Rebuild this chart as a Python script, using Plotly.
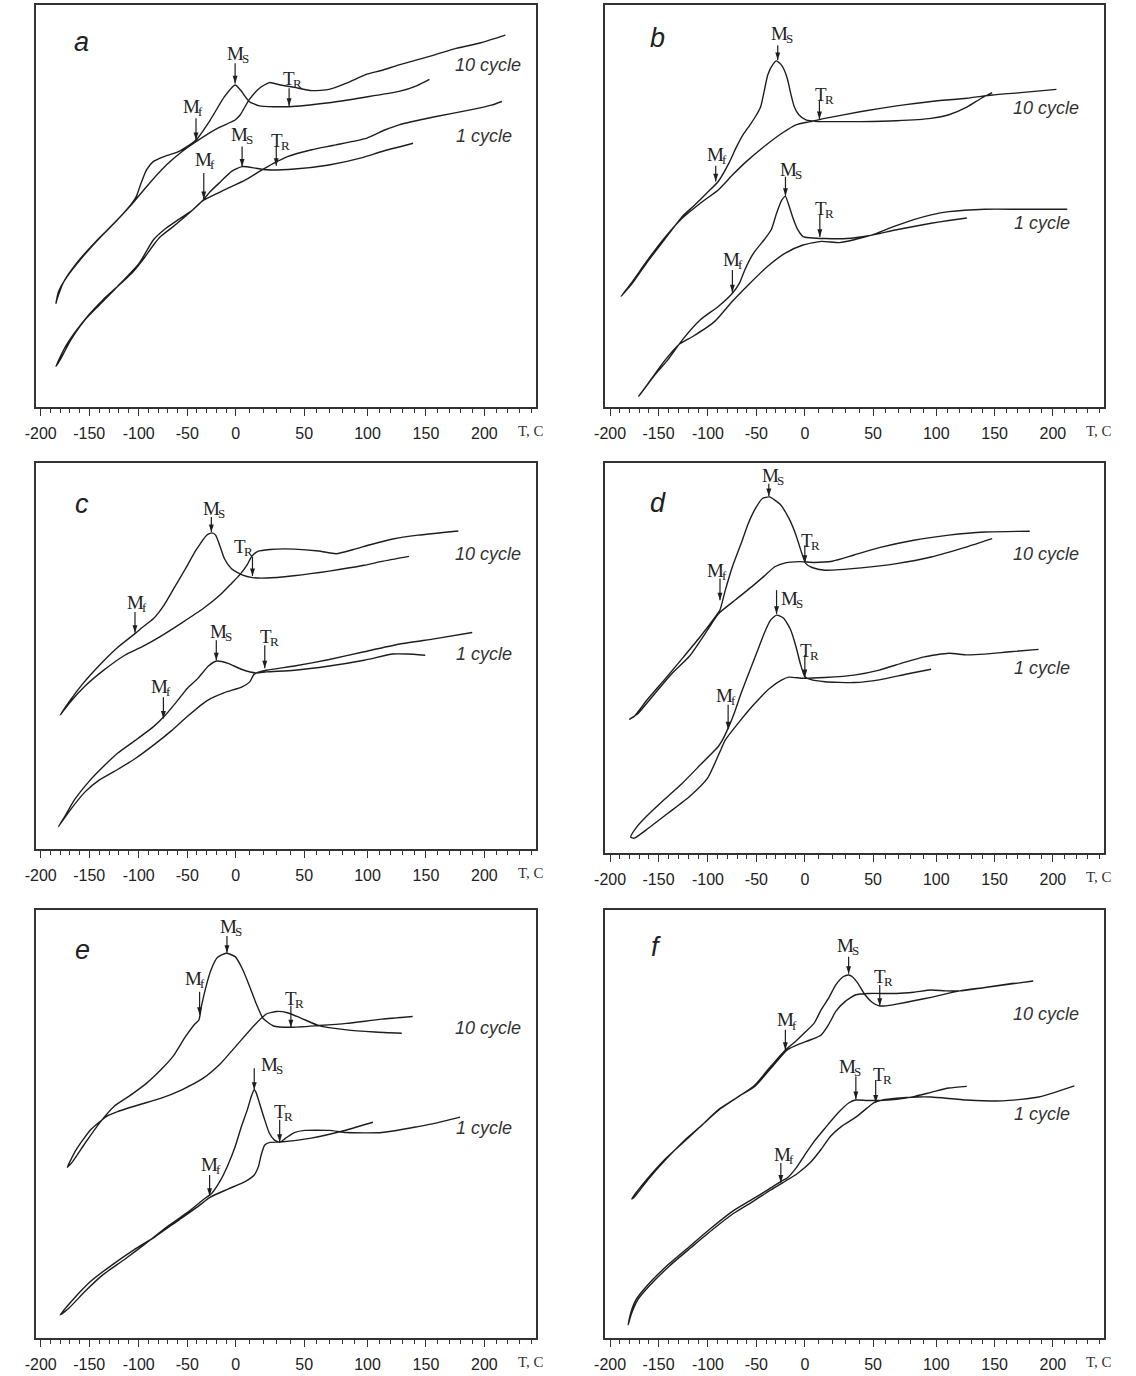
import numpy as np
import plotly.graph_objects as go

# ---------------- DATA (temperature T in deg C, signal in arbitrary units 0..100) ----------------
TICK_T = [-200, -150, -100, -50, 0, 50, 100, 150, 200]
TICK_LABELS = ["-200", "-150", "-100", "-50", "0", "50", "100", "150", "200"]
MINOR_T = [t for t in range(-200, 241, 10) if t % 50 != 0]

# panel a
A10_COOL_T = [153, 142, 127, 96.7, 69.6, 39, 17.3, 9.7, 3.3, -0.7, -11.7, -26.3, -41, -59, -73.9, -84.8, -92, -97.6, -102.4, -106.8, -121.4, -139.7, -158, -172.6, -181.7, -184.3]
A10_COOL_Y = [81.5, 79.9, 78.5, 77.0, 75.7, 74.7, 74.9, 76.0, 78.9, 80.1, 77.2, 71.4, 66.4, 63.5, 62.3, 61.1, 59.0, 55.7, 52.4, 50.7, 46.6, 42.0, 37.0, 32.5, 28.7, 25.8]
A10_HEAT_T = [-184.3, -182.8, -176.2, -161.6, -143.3, -125, -106.8, -88.5, -70.2, -55.6, -41, -19, -0.7, 3.3, 9.7, 17.3, 24.5, 32.7, 42.9, 56, 69.6, 85.9, 99.5, 111.7, 127, 157.6, 175.8, 197, 218]
A10_HEAT_Y = [25.8, 27.1, 31.2, 36.2, 41.2, 45.7, 50.5, 55.8, 60.5, 63.5, 66.0, 69.3, 71.4, 72.7, 76.4, 79.3, 80.7, 80.1, 79.5, 78.7, 79.0, 80.9, 82.8, 83.7, 85.1, 87.6, 89.2, 90.6, 92.5]
A1_COOL_T = [139, 111.7, 96.7, 69.6, 42.9, 22.4, 14.8, 4.6, -4.4, -15.4, -26.3, -33.6, -48.3, -66.5, -77.5, -84.8, -95.8, -106.8, -117.7, -136, -150.6, -165.2, -176.2, -184.3]
A1_COOL_Y = [65.6, 63.5, 62.1, 60.2, 59.2, 59.0, 59.4, 59.8, 58.6, 56.1, 53.6, 51.5, 48.2, 44.5, 42.4, 40.3, 36.6, 33.3, 30.8, 26.7, 22.9, 18.4, 14.3, 10.1]
A1_HEAT_T = [-184.3, -179.9, -168.9, -154.3, -139.7, -121.4, -99.5, -84.8, -73.9, -59.2, -44.6, -33.6, -11.7, 7.1, 17.3, 27.6, 37.8, 56, 75, 99.5, 114.7, 127, 157.6, 188, 206, 215]
A1_HEAT_Y = [10.1, 11.8, 16.7, 21.7, 25.4, 30.0, 35.8, 41.6, 44.1, 46.6, 49.0, 51.4, 54.0, 56.5, 58.6, 60.6, 62.3, 64.0, 65.2, 66.9, 68.9, 70.2, 72.2, 73.9, 75.1, 76.0]
A_ARROWS = [(-0.7, 85.5, 80.5), (39, 79.3, 74.9), (-41, 71.8, 66.4), (4.6, 64.8, 59.8), (29.6, 64.8, 60.0), (-33, 58.2, 51.7)]
A_LABELS = [("M", "S", 2, 88.0), ("T", "R", 41.6, 81.8), ("M", "f", -44.6, 74.7),
            ("M", "S", 4.6, 67.7), ("T", "R", 32.7, 66.4), ("M", "f", -31.8, 61.5)]
A_TEXTS = [("10 cycle", 203, 85.1), ("1 cycle", 200, 67.3)]
A_LETTER = ("a", -158, 90.9)

# panel b
B10_COOL_T = [147.9, 138.6, 126.2, 110.8, 95.9, 68.6, 41.4, 14.7, 9.4, 0.8, -6.2, -10.9, -14.6, -18.2, -23.7, -29.2, -32.8, -38.3, -42, -45.6, -51.1, -56.6, -63.9, -71.2, -78.5, -89.4, -100.4, -115, -125.9, -144.2, -162.4, -177, -188.7]
B10_COOL_Y = [78.2, 76.8, 74.6, 72.7, 71.8, 71.2, 71.0, 71.0, 71.0, 71.4, 72.7, 74.7, 78.0, 81.8, 84.9, 86.1, 85.3, 82.6, 78.5, 74.7, 72.2, 70.2, 67.7, 64.4, 60.6, 56.1, 53.4, 49.9, 47.4, 41.6, 35.8, 30.8, 27.5]
B10_HEAT_T = [-188.7, -177, -162.4, -144.2, -125.9, -107.7, -89.4, -74.8, -60.2, -42, -23.7, -9.1, 4, 14.7, 41.4, 68.6, 95.9, 126.2, 147.9, 172.4, 203]
B10_HEAT_Y = [27.5, 31.2, 36.2, 42.0, 47.0, 50.7, 54.0, 57.7, 61.1, 64.8, 68.1, 70.2, 71.0, 71.8, 73.5, 74.9, 76.0, 76.8, 77.6, 78.2, 79.0]
B1_COOL_T = [126.2, 110.8, 95.9, 68.6, 46.8, 30.7, 14.7, 4, -1.8, -7.3, -12.8, -17.2, -20.1, -23.7, -29.2, -34.7, -42, -52.9, -62, -67.5, -74.8, -89.4, -107.7, -125.9, -140.5, -155.1, -170.4]
B1_COOL_Y = [47.0, 46.4, 45.7, 44.1, 42.6, 41.9, 41.9, 42.1, 42.4, 44.1, 47.4, 50.7, 52.4, 51.5, 48.2, 44.1, 41.6, 38.3, 34.1, 30.8, 28.3, 25.0, 21.7, 16.7, 11.8, 7.6, 2.7]
B1_HEAT_T = [-170.4, -158, -144.2, -129.6, -115, -93, -74.8, -56.6, -38.3, -20.1, -1.8, 12, 25.4, 36.1, 49.5, 63.1, 82.2, 95.9, 110.8, 141.7, 172.4, 212.3]
B1_HEAT_Y = [2.7, 6.8, 11.4, 15.5, 17.6, 21.3, 26.3, 30.8, 35.0, 38.3, 40.3, 41.2, 40.9, 41.6, 42.8, 44.5, 46.6, 47.8, 48.6, 49.2, 49.2, 49.2]
B_ARROWS = [(-28, 90, 86.3), (10.7, 76.4, 71.6), (-92, 60, 56.1), (-20, 57.3, 52.5), (11, 47.8, 42.3), (-74.8, 34.1, 28.5)]
B_LABELS = [("M", "S", -23.7, 93), ("T", "R", 14.7, 77.8), ("M", "f", -91.2, 62.7),
            ("M", "S", -14.6, 59), ("T", "R", 14.7, 49.5), ("M", "f", -74.8, 36.8)]
B_TEXTS = [("10 cycle", 193.9, 74.3), ("1 cycle", 190.8, 45.7)]
B_LETTER = ("b", -151, 91.7)

# panel c
C10_COOL_T = [135.5, 112.3, 97.3, 69.8, 42.3, 22.4, 12.2, 4.6, -4.4, -11.7, -16.1, -20.8, -24.5, -30, -41, -51.9, -62.9, -73.9, -84.8, -95.8, -103.8, -121.4, -139.7, -158, -170.8, -179.9]
C10_COOL_Y = [75.8, 74.5, 73.5, 72.0, 70.8, 70.2, 70.3, 71.0, 72.6, 75.2, 78.3, 81.3, 81.9, 81.3, 77.4, 72.6, 67.9, 63.2, 59.7, 57.5, 55.8, 52.2, 47.6, 42.4, 38.1, 34.7]
C10_HEAT_T = [-179.9, -170.8, -154.3, -136, -114.1, -95.8, -77.5, -55.6, -33.6, -15.4, -4.4, 3.3, 8.4, 11.7, 16.1, 25, 42.9, 61.5, 75.3, 89, 103.1, 121.6, 143.2, 177.7]
C10_HEAT_Y = [34.7, 37.7, 42.2, 46.2, 50.2, 52.5, 55.1, 58.6, 62.3, 66.0, 68.8, 71.2, 73.7, 75.8, 77.1, 77.6, 77.7, 77.2, 76.5, 77.6, 78.9, 80.3, 81.3, 82.4]
C1_COOL_T = [149.4, 133.9, 121.6, 97.3, 69.8, 42.9, 22.4, 14.8, 4.6, -8, -19.7, -28.2, -39.1, -50.1, -61.1, -73.9, -84.8, -103.1, -121.4, -136, -150.6, -165.3, -174.4, -181.7]
C1_COOL_Y = [50.2, 50.5, 50.5, 48.9, 47.4, 46.3, 45.9, 45.6, 46.5, 48.1, 48.7, 47.4, 44.2, 41.6, 38.1, 34.3, 31.7, 28.2, 24.8, 21.3, 17.4, 12.7, 8.8, 5.8]
C1_HEAT_T = [-181.7, -170.8, -154.3, -139.7, -121.4, -103.1, -84.8, -66.5, -48.3, -30, -11.7, 4.6, 10.2, 13.5, 22.4, 42.9, 69.8, 97.3, 127.8, 158.3, 189.6]
C1_HEAT_Y = [5.8, 9.7, 14.8, 17.9, 20.6, 23.5, 26.9, 30.6, 34.7, 38.4, 40.5, 42.0, 43.3, 45.3, 46.3, 47.4, 49.1, 51.1, 53.1, 54.5, 56.1]
C_ARROWS = [(-25.2, 86, 82.1), (12.2, 75.7, 70.7), (-103.8, 61.4, 56), (-20.1, 54.1, 48.9), (21.2, 52.8, 46.8), (-74.6, 39.3, 33.8)]
C_LABELS = [("M", "S", -22.7, 88.2), ("T", "R", 5.9, 78.3), ("M", "f", -102.4, 63.8),
            ("M", "S", -15.4, 56.3), ("T", "R", 24.5, 55.0), ("M", "f", -77.5, 42.2)]
C_TEXTS = [("10 cycle", 203, 76.4), ("1 cycle", 200, 50.5)]
C_LETTER = ("c", -157, 89.3)

# panel d
D10_COOL_T = [147.9, 126.2, 95.9, 68.6, 41.4, 14.7, 5.3, 0.8, -3.6, -9.1, -16.4, -25.5, -36.5, -43.8, -51.1, -58.4, -65.7, -74.8, -82.1, -87.6, -91.2, -107.7, -125.9, -144.2, -162.4, -175.2, -179.9]
D10_COOL_Y = [80.6, 78.5, 75.9, 74.2, 73.1, 72.5, 73.2, 74.2, 77.2, 81.5, 85.8, 89.4, 91.3, 90.9, 88.3, 84.5, 79.4, 73.4, 67.4, 62.3, 61.0, 55.5, 49.9, 44.4, 39.1, 35.0, 34.3]
D10_HEAT_T = [-179.9, -171.5, -155.1, -136.9, -118.6, -100.4, -89.4, -71.2, -54.7, -42, -31, -20.1, -5.5, 6.7, 20.1, 36.1, 54.9, 82.2, 110.8, 141.7, 180.1]
D10_HEAT_Y = [34.3, 35.7, 40.5, 45.9, 50.5, 57.2, 61.3, 65.0, 68.3, 71.0, 73.4, 74.4, 74.7, 74.5, 74.8, 76.4, 78.3, 80.2, 81.5, 82.3, 82.5]
D1_COOL_T = [95.9, 76.8, 54.9, 36.1, 14.7, 4, 0, -4.7, -9.1, -14.6, -21.9, -29.2, -35.4, -42, -49.3, -56.6, -65.7, -73, -78.5, -85, -89.4, -107.7, -125.9, -144.2, -162.4, -173.4, -178.8]
D1_COOL_Y = [47.1, 45.9, 44.4, 43.7, 43.9, 44.5, 45.2, 48.6, 52.9, 57.2, 60.2, 61.0, 59.7, 56.3, 51.6, 46.9, 41.0, 35.8, 32.4, 29.0, 27.3, 22.6, 17.9, 13.7, 9.4, 6.4, 4.1]
D1_HEAT_T = [-178.8, -175.2, -162.4, -140.5, -118.6, -100.4, -87.6, -82.1, -67.5, -52.9, -36.5, -23.7, -16.4, -1.8, 14.7, 36.1, 54.9, 74, 90.5, 110.8, 126.2, 141.7, 163.2, 187.7]
D1_HEAT_Y = [4.1, 3.8, 6.0, 10.2, 14.5, 19.2, 26.0, 29.0, 33.7, 38.0, 42.2, 44.4, 45.1, 44.8, 45.0, 45.6, 46.9, 48.8, 50.3, 51.2, 50.8, 51.0, 51.6, 52.2]
D_ARROWS = [(-37.2, 94.7, 91.5), (0, 78.9, 74.4), (-87.6, 70.4, 64.8), (-29.2, 67.4, 61.3), (0, 50.8, 45.1), (-79.2, 38, 31.7)]
D_LABELS = [("M", "S", -32.8, 96.8), ("T", "R", 4, 80.2), ("M", "f", -91.2, 72.5),
            ("M", "S", -13, 65.3), ("T", "R", 3.5, 52), ("M", "f", -82.1, 40.5)]
D_TEXTS = [("10 cycle", 193.9, 76.6), ("1 cycle", 190.8, 47.4)]
D_LETTER = ("d", -151, 89.8)

# panel e
E10_COOL_T = [138.6, 112.3, 83.5, 61.5, 40.3, 27.6, 19.9, 14.8, 9.7, 4.6, -0.7, -9.9, -19, -25.6, -30.7, -35.5, -38, -42.8, -51.9, -64.7, -77.5, -92.1, -110.4, -125, -139.7, -154.3, -167.1, -172.6]
E10_COOL_Y = [75.1, 74.5, 73.5, 73.0, 72.6, 72.9, 74.7, 78.2, 82.5, 86.4, 89.1, 89.9, 88.9, 86.0, 82.1, 77.4, 74.3, 73.2, 70.4, 65.8, 62.6, 59.5, 56.4, 54.1, 50.2, 45.5, 41.2, 39.9]
E10_HEAT_T = [-172.6, -163.4, -148.8, -132.4, -121.4, -99.5, -77.5, -55.6, -33.6, -15.4, 2, 14.8, 22.4, 30.1, 37.8, 48, 61.5, 83.5, 106.2, 129.3]
E10_HEAT_Y = [39.9, 44.0, 48.6, 51.8, 52.9, 54.5, 56.0, 58.0, 60.7, 64.2, 68.9, 73.5, 75.7, 76.3, 76.0, 74.7, 73.0, 72.0, 71.5, 71.2]
E1_COOL_T = [179.2, 158.3, 143.2, 112.3, 83.5, 69.8, 50.5, 42.9, 36.5, 32.1, 28.1, 24.5, 20.7, 17.3, 14.8, 13.5, 11.7, 8.4, 4.1, -0.7, -8, -15.4, -24.5, -33.6, -48.3, -70.2, -92.1, -114.1, -136, -154.3, -170.8, -179.9]
E1_COOL_Y = [51.6, 50.2, 49.4, 48.0, 48.0, 48.5, 48.5, 48.0, 46.7, 45.7, 46.3, 47.9, 51.4, 54.9, 57.4, 58.0, 56.8, 53.3, 49.4, 44.7, 40.5, 37.0, 33.9, 32.3, 29.6, 26.1, 22.2, 18.4, 14.8, 10.9, 7.0, 5.4]
E1_HEAT_T = [-179.9, -167.1, -148.8, -126.8, -104.9, -82.9, -61, -39.1, -26.3, -8, 7.1, 13.5, 16.6, 18.6, 21.2, 25, 32.7, 55.6, 83.5, 104.6]
E1_HEAT_Y = [5.4, 8.9, 13.2, 17.1, 20.6, 23.7, 27.2, 30.7, 32.9, 34.8, 36.6, 38.1, 40.1, 42.8, 45.1, 45.7, 45.8, 46.7, 48.6, 50.4]
E_ARROWS = [(-9.1, 93.9, 90.0), (40.3, 77.6, 72.6), (-37.3, 80.9, 75.5), (13.5, 63, 58), (32.1, 51, 45.8), (-27, 38.1, 33.2)]
E_LABELS = [("M", "S", -4.4, 96.1), ("T", "R", 42.9, 79.4), ("M", "f", -42.8, 84),
            ("M", "S", 26.3, 63.8), ("T", "R", 35.2, 52.9), ("M", "f", -26.3, 40.5)]
E_TEXTS = [("10 cycle", 203, 72.4), ("1 cycle", 200, 49.0)]
E_LETTER = ("e", -157, 90.7)

# panel f
F10_COOL_T = [166.3, 141.7, 120.1, 95.9, 82.2, 68.6, 60.1, 54.8, 49.5, 44.1, 38.8, 34.8, 32.1, 28.1, 22.7, 17.4, 12, 6.7, 0, -9.1, -20.1, -34.7, -52.9, -71.2, -89.4, -107.7, -125.9, -144.2, -162.4, -173.4, -177.7]
F10_COOL_Y = [82.9, 81.9, 81.1, 79.6, 78.8, 78.0, 77.6, 77.6, 78.4, 80.2, 82.9, 84.4, 84.8, 84.4, 82.5, 79.4, 76.7, 73.5, 71.4, 69.4, 67.3, 63.6, 58.8, 56.0, 53.3, 49.4, 45.5, 41.6, 37.0, 33.9, 32.5]
F10_HEAT_T = [-177.7, -175.2, -160.6, -142.3, -124.1, -105.8, -87.6, -69.3, -51.1, -32.8, -18.2, -5.5, 5.3, 12, 17.4, 22.7, 29.4, 37.4, 46.8, 68.6, 82.2, 95.9, 107.7, 120.1, 141.7, 183.1]
F10_HEAT_Y = [32.5, 32.9, 37.1, 41.8, 46.1, 49.8, 53.5, 56.3, 58.9, 63.6, 67.3, 68.7, 69.8, 70.8, 73.2, 76.3, 78.6, 80.2, 80.5, 80.5, 80.8, 81.3, 81.1, 81.1, 81.9, 83.4]
F1_COOL_T = [126.2, 110.8, 95.9, 82.2, 68.6, 54.9, 45.5, 37.4, 32.1, 24.1, 14.7, 6.7, 0, -9.1, -18.2, -24.5, -38.3, -56.6, -74.8, -96.7, -118.6, -140.5, -162.4, -173.4, -178.8, -181.4]
F1_COOL_Y = [58.8, 58.4, 57.4, 56.4, 55.8, 55.5, 55.5, 55.6, 54.9, 52.5, 49.0, 45.9, 42.8, 39.7, 37.4, 36.6, 34.6, 32.1, 29.6, 25.7, 21.4, 17.1, 12.1, 8.9, 5.8, 3.1]
F1_HEAT_T = [-181.4, -178.1, -171.5, -160.6, -138.7, -116.8, -94.9, -73, -52.9, -36.5, -22.6, -7.3, 4, 12, 18.7, 26.7, 37.4, 45.5, 50.8, 57.6, 68.6, 85, 95.9, 126.2, 157.1, 187.7, 218.4]
F1_HEAT_Y = [3.1, 5.6, 8.9, 11.9, 16.9, 21.2, 25.4, 29.2, 32.0, 34.4, 36.3, 38.5, 41.0, 44.1, 47.1, 49.4, 51.6, 53.7, 55.0, 55.6, 56.0, 56.3, 56.3, 55.6, 55.4, 56.3, 58.9]
F_ARROWS = [(32.1, 89.1, 85.1), (55.3, 82.5, 77.6), (-20.1, 72, 67.3), (37.4, 61.1, 55.8), (52.1, 60.3, 55.0), (-24.8, 40.9, 36.3)]
F_LABELS = [("M", "S", 32.1, 91.8), ("T", "R", 58, 84.4), ("M", "f", -18.2, 74.3),
            ("M", "S", 33.4, 63.4), ("T", "R", 57.6, 61.5), ("M", "f", -21.9, 42.8)]
F_TEXTS = [("10 cycle", 193.9, 75.7), ("1 cycle", 190.8, 52.4)]
F_LETTER = ("f", -153, 91.3)

# ---------------- LAYOUT / SCALE ----------------
W, H = 1136, 1376
# the reference's temperature axis is not uniform: pixel offset of each major tick inside the frame
AXIS_PX = [5, 54, 104, 153, 202, 271, 335, 394, 453]
FRAME_W = 505.0


def tscale(t):
    tt = [-260.0] + TICK_T + [260.0]
    uu = [AXIS_PX[0] - 60 * 0.986] + AXIS_PX + [AXIS_PX[-1] + 60 * 1.18]
    return np.interp(np.asarray(t, dtype=float), tt, uu)


# frame boxes in pixels: (left, top, right, bottom)
BOXES = [(25, 5, 530, 407), (600, 5, 1104, 407),
         (25, 463, 530, 849), (600, 463, 1104, 853),
         (25, 910, 530, 1338), (600, 910, 1104, 1338)]

PANELS = [
    ([(A10_COOL_T, A10_COOL_Y, A10_HEAT_T, A10_HEAT_Y), (A1_COOL_T, A1_COOL_Y, A1_HEAT_T, A1_HEAT_Y)], A_ARROWS, A_LABELS, A_TEXTS, A_LETTER),
    ([(B10_COOL_T, B10_COOL_Y, B10_HEAT_T, B10_HEAT_Y), (B1_COOL_T, B1_COOL_Y, B1_HEAT_T, B1_HEAT_Y)], B_ARROWS, B_LABELS, B_TEXTS, B_LETTER),
    ([(C10_COOL_T, C10_COOL_Y, C10_HEAT_T, C10_HEAT_Y), (C1_COOL_T, C1_COOL_Y, C1_HEAT_T, C1_HEAT_Y)], C_ARROWS, C_LABELS, C_TEXTS, C_LETTER),
    ([(D10_COOL_T, D10_COOL_Y, D10_HEAT_T, D10_HEAT_Y), (D1_COOL_T, D1_COOL_Y, D1_HEAT_T, D1_HEAT_Y)], D_ARROWS, D_LABELS, D_TEXTS, D_LETTER),
    ([(E10_COOL_T, E10_COOL_Y, E10_HEAT_T, E10_HEAT_Y), (E1_COOL_T, E1_COOL_Y, E1_HEAT_T, E1_HEAT_Y)], E_ARROWS, E_LABELS, E_TEXTS, E_LETTER),
    ([(F10_COOL_T, F10_COOL_Y, F10_HEAT_T, F10_HEAT_Y), (F1_COOL_T, F1_COOL_Y, F1_HEAT_T, F1_HEAT_Y)], F_ARROWS, F_LABELS, F_TEXTS, F_LETTER),
]

INK = "#1e1e1e"
SANS = "Liberation Sans, Arial, sans-serif"
SERIF = "Liberation Serif, Times New Roman, serif"
MAIN_SIZE, SUB_SIZE = 19, 13
# approximate advance widths (em) of the serif glyphs, used to centre "main+subscript" pairs
GLYPH_EM = {"M": 0.889, "T": 0.611, "S": 0.556, "R": 0.667, "f": 0.333}

fig = go.Figure()
layout = dict(width=W, height=H, margin=dict(l=0, r=0, t=0, b=0),
              paper_bgcolor="white", plot_bgcolor="white", showlegend=False)
annotations = []

for i, (cycles, arrows, labels, texts, letter) in enumerate(PANELS):
    n = i + 1
    xa = "x" if n == 1 else f"x{n}"
    ya = "y" if n == 1 else f"y{n}"
    left, top, right, bottom = BOXES[i]
    box_h = bottom - top

    for (ct, cy, ht, hy) in cycles:
        tt = list(ct) + list(ht[1:])
        yy = list(cy) + list(hy[1:])
        fig.add_trace(go.Scatter(x=tscale(tt), y=yy, mode="lines", xaxis=xa, yaxis=ya,
                                 line=dict(color=INK, width=1.4, shape="spline", smoothing=0.55),
                                 hoverinfo="skip"))

    # marker arrows: shafts + heads
    sx, sy = [], []
    for (t, ytail, yhead) in arrows:
        ux = float(tscale(t))
        sx += [ux, ux, None]
        sy += [ytail, yhead, None]
    fig.add_trace(go.Scatter(x=sx, y=sy, mode="lines", xaxis=xa, yaxis=ya,
                             line=dict(color=INK, width=1.2), hoverinfo="skip"))
    fig.add_trace(go.Scatter(x=[float(tscale(a[0])) for a in arrows], y=[a[2] for a in arrows],
                             mode="markers", xaxis=xa, yaxis=ya, hoverinfo="skip",
                             marker=dict(symbol="arrow", angle=180, size=8, color=INK,
                                         line=dict(width=0))))

    layout["xaxis" if n == 1 else f"xaxis{n}"] = dict(
        domain=[left / W, right / W], range=[0, FRAME_W], anchor=ya,
        showline=True, linecolor="#333", linewidth=1.5, mirror=True,
        ticks="outside", ticklen=7, tickwidth=1.3, tickcolor="#333",
        tickmode="array", tickvals=list(tscale(TICK_T)), ticktext=TICK_LABELS,
        tickfont=dict(family=SANS, size=16, color="#222"), ticklabelstandoff=4,
        minor=dict(tickmode="array", tickvals=list(tscale(MINOR_T)), ticks="outside",
                   ticklen=4, tickwidth=1.2, tickcolor="#333", showgrid=False),
        showgrid=False, zeroline=False, fixedrange=True)
    layout["yaxis" if n == 1 else f"yaxis{n}"] = dict(
        domain=[1 - bottom / H, 1 - top / H], range=[0, 100], anchor=xa,
        showline=True, linecolor="#333", linewidth=1.5, mirror=True,
        ticks="", showticklabels=False, showgrid=False, zeroline=False, fixedrange=True)

    for (main, sub, t, y) in labels:
        ux = float(tscale(t))
        d = (GLYPH_EM[main] * MAIN_SIZE - GLYPH_EM[sub] * SUB_SIZE) / 2.0
        annotations.append(dict(x=ux, y=y, xref=xa, yref=ya, text=main, showarrow=False,
                                xanchor="right", yanchor="middle", xshift=d + 1, borderpad=0,
                                borderwidth=0, font=dict(family=SERIF, size=MAIN_SIZE, color="#222")))
        annotations.append(dict(x=ux, y=y, xref=xa, yref=ya, text=sub, showarrow=False,
                                xanchor="left", yanchor="middle", xshift=d - 1, yshift=-5,
                                borderpad=0, borderwidth=0,
                                font=dict(family=SERIF, size=SUB_SIZE, color="#222")))
    for (txt, t, y) in texts:
        annotations.append(dict(x=float(tscale(t)), y=y, xref=xa, yref=ya, text=f"<i>{txt}</i>",
                                showarrow=False, xanchor="center", yanchor="middle",
                                font=dict(family=SANS, size=18, color="#333")))
    lt, ltt, lty = letter
    annotations.append(dict(x=float(tscale(ltt)), y=lty, xref=xa, yref=ya, text=f"<i>{lt}</i>",
                            showarrow=False, xanchor="center", yanchor="middle",
                            font=dict(family=SANS, size=27, color="#222")))
    annotations.append(dict(x=0.99, y=-24.0 / box_h, xref=f"{xa} domain", yref=f"{ya} domain",
                            text="T, C", showarrow=False, xanchor="center", yanchor="middle",
                            font=dict(family=SERIF, size=15, color="#333")))

layout["annotations"] = annotations
fig.update_layout(**layout)
fig.write_html("out.html")
